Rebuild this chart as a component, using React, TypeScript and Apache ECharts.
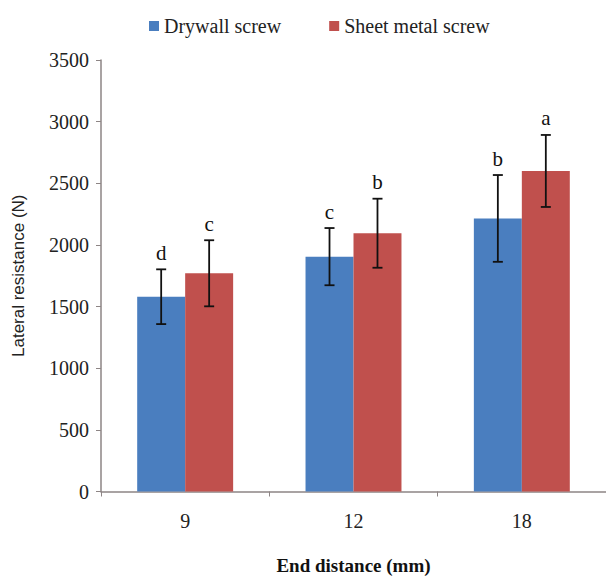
import React, { useEffect, useRef } from "react";
import * as echarts from "echarts";

const categories = ["9", "12", "18"];
const seriesNames = ["Drywall screw", "Sheet metal screw"];
const drywall = [1580, 1905, 2215];
const sheetMetal = [1770, 2095, 2600];
const drywallErr = [222, 232, 352];
const sheetMetalErr = [268, 280, 292];
const drywallLetters = ["d", "c", "b"];
const sheetMetalLetters = ["c", "b", "a"];
const yTicks = [0, 500, 1000, 1500, 2000, 2500, 3000, 3500];

const BLUE = "#4a7ebf";
const RED = "#c0504d";
const SERIF = "Liberation Serif";
const SANS = "Liberation Sans";
const BAR_FRAC = 0.285;

function makeErrSeries(name: string, values: number[], errs: number[], letters: string[], side: number) {
  return {
    type: "custom",
    name,
    z: 5,
    encode: { x: 0, y: 1 },
    data: values.map((v, i) => [i, v, errs[i]]),
    renderItem: (params: any, api: any) => {
      const cat = api.value(0);
      const v = api.value(1);
      const e = api.value(2);
      const catW = api.size([1, 0])[0];
      const bw = catW * BAR_FRAC;
      const off = side * bw / 2;
      const pTop = api.coord([cat, v + e]);
      const pBot = api.coord([cat, v - e]);
      const x = pTop[0] + off;
      const cap = 5;
      const ls = { stroke: "#111", lineWidth: 1.8 };
      return {
        type: "group",
        children: [
          { type: "line", shape: { x1: x, y1: pTop[1], x2: x, y2: pBot[1] }, style: ls },
          { type: "line", shape: { x1: x - cap, y1: pTop[1], x2: x + cap, y2: pTop[1] }, style: ls },
          { type: "line", shape: { x1: x - cap, y1: pBot[1], x2: x + cap, y2: pBot[1] }, style: ls },
          {
            type: "text",
            style: {
              text: letters[params.dataIndex],
              x,
              y: pTop[1] - 6,
              align: "center",
              verticalAlign: "bottom",
              fontSize: 21,
              fontFamily: SERIF,
              fill: "#111",
            },
          },
        ],
      };
    },
  };
}

export default function App() {
  const ref = useRef<HTMLDivElement>(null);
  useEffect(() => {
    if (!ref.current) return;
    const chart = echarts.init(ref.current, undefined, { renderer: "svg" });
    const axisColor = "#8d8585";
    chart.setOption({
      animation: false,
      backgroundColor: "#ffffff",
      legend: {
        data: seriesNames,
        left: 144,
        top: 11,
        itemWidth: 10,
        itemHeight: 10,
        itemGap: 48,
        icon: "rect",
        textStyle: { fontFamily: SERIF, fontSize: 20, color: "#222" },
      },
      grid: { left: 101, top: 60, width: 514, bottom: 88.5 },
      xAxis: {
        type: "category",
        data: categories,
        axisLine: { lineStyle: { color: axisColor, width: 1.5 } },
        axisTick: { show: true, length: 5, alignWithLabel: false, lineStyle: { color: axisColor } },
        axisLabel: { fontFamily: SERIF, fontSize: 20, color: "#222", margin: 19 },
        name: "End distance (mm)",
        nameLocation: "middle",
        nameGap: 64,
        nameTextStyle: { fontFamily: SERIF, fontSize: 19, fontWeight: "bold", color: "#111" },
      },
      yAxis: {
        type: "value",
        min: yTicks[0],
        max: yTicks[yTicks.length - 1],
        interval: 500,
        splitLine: { show: false },
        axisLine: { show: true, lineStyle: { color: axisColor, width: 1.5 } },
        axisTick: { show: true, length: 5, lineStyle: { color: axisColor } },
        axisLabel: {
          fontFamily: SERIF,
          fontSize: 20,
          color: "#222",
          margin: 12,
          formatter: (v: number) => String(v),
        },
        name: "Lateral resistance (N)",
        nameLocation: "middle",
        nameGap: 74,
        nameRotate: 90,
        nameTextStyle: { fontFamily: SANS, fontSize: 17, color: "#222" },
      },
      series: [
        {
          type: "bar",
          name: seriesNames[0],
          data: drywall,
          barWidth: BAR_FRAC * 100 + "%",
          barGap: "0%",
          itemStyle: { color: BLUE },
        },
        {
          type: "bar",
          name: seriesNames[1],
          data: sheetMetal,
          barWidth: BAR_FRAC * 100 + "%",
          barGap: "0%",
          itemStyle: { color: RED },
        },
        makeErrSeries("err0", drywall, drywallErr, drywallLetters, -1),
        makeErrSeries("err1", sheetMetal, sheetMetalErr, sheetMetalLetters, 1),
      ],
    });
    return () => chart.dispose();
  }, []);
  return (
    <div
      ref={ref}
      style={{ position: "fixed", left: 0, top: 0, width: 606, height: 580, overflow: "hidden" }}
    />
  );
}
